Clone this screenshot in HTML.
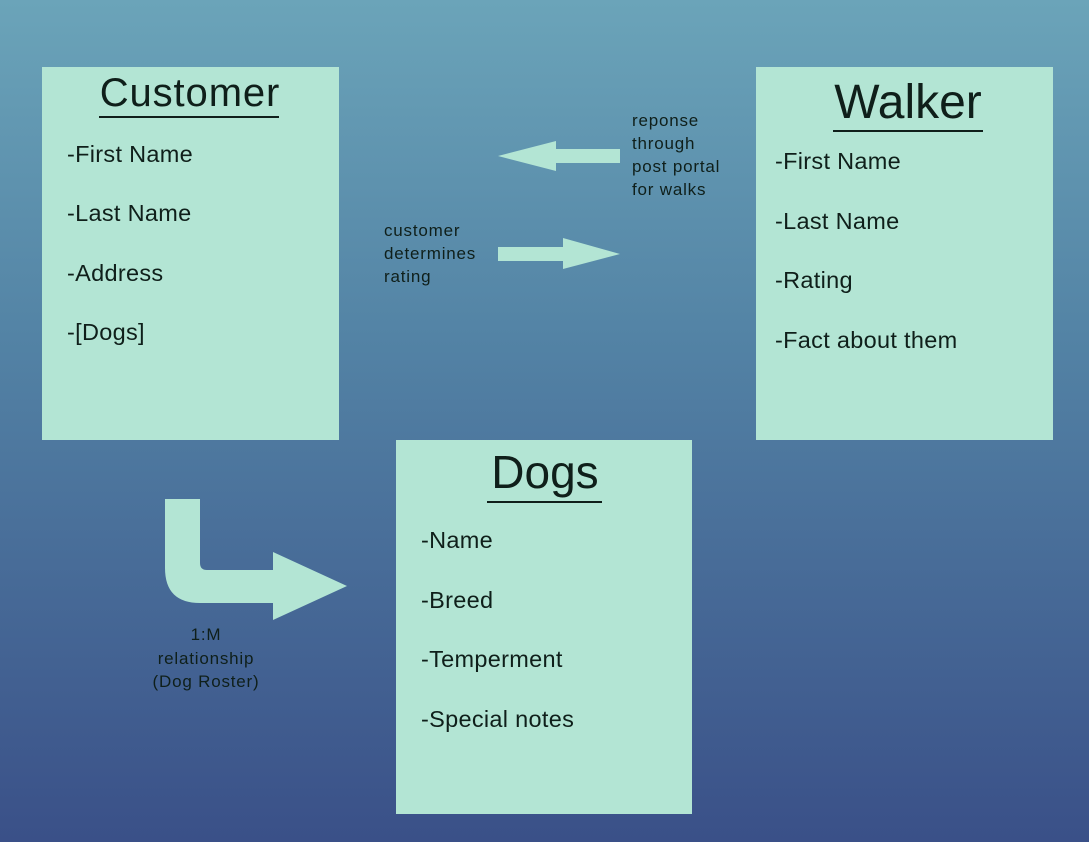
<!DOCTYPE html>
<html><head><style>
html,body{margin:0;padding:0;}
body{width:1089px;height:842px;overflow:hidden;background:linear-gradient(to bottom,#6ba4b9 0%,#5383a5 40%,#3a5088 100%);}
svg{display:block;}
text{font-family:"Liberation Sans",sans-serif;fill:#0f1f1a;}
</style></head><body>
<svg width="1089" height="842" viewBox="0 0 1089 842">
<g fill="#b3e5d4">
<rect x="42" y="67" width="297" height="373"/>
<rect x="756" y="67" width="297" height="373"/>
<rect x="396" y="440" width="296" height="374"/>
<polygon points="556,141 556,171 498,156"/>
<rect x="554" y="149" width="66" height="14"/>
<rect x="498" y="247" width="67" height="14"/>
<polygon points="563,238 620,254 563,269"/>
<path d="M165,499 H200 V563 Q200,570 207,570 H273 V552 L347,586 L273,620 V603 H200 Q165,603 165,568 Z"/>
</g>
<g stroke="#0f1f1a" stroke-width="2">
<line x1="99" y1="117" x2="279" y2="117"/>
<line x1="833" y1="131" x2="983" y2="131"/>
<line x1="487" y1="502" x2="602" y2="502"/>
</g>
<text x="190" y="106" font-size="40" text-anchor="middle" letter-spacing="0.9">Customer</text>
<text x="908" y="118" font-size="48" text-anchor="middle">Walker</text>
<text x="545" y="488" font-size="46" text-anchor="middle">Dogs</text>
<g font-size="23.5" letter-spacing="0.3">
<text x="67" y="162">-First Name</text>
<text x="67" y="221">-Last Name</text>
<text x="67" y="281">-Address</text>
<text x="67" y="340">-[Dogs]</text>
<text x="775" y="169">-First Name</text>
<text x="775" y="229">-Last Name</text>
<text x="775" y="288">-Rating</text>
<text x="775" y="348">-Fact about them</text>
<text x="421" y="548">-Name</text>
<text x="421" y="608">-Breed</text>
<text x="421" y="667">-Temperment</text>
<text x="421" y="727">-Special notes</text>
</g>
<g font-size="17" letter-spacing="0.8">
<text x="632" y="126">reponse</text>
<text x="632" y="149">through</text>
<text x="632" y="172">post portal</text>
<text x="632" y="195">for walks</text>
<text x="384" y="236">customer</text>
<text x="384" y="259">determines</text>
<text x="384" y="282">rating</text>
<text x="206" y="640" text-anchor="middle">1:M</text>
<text x="206" y="664" text-anchor="middle">relationship</text>
<text x="206" y="687" text-anchor="middle">(Dog Roster)</text>
</g>
</svg>
</body></html>
